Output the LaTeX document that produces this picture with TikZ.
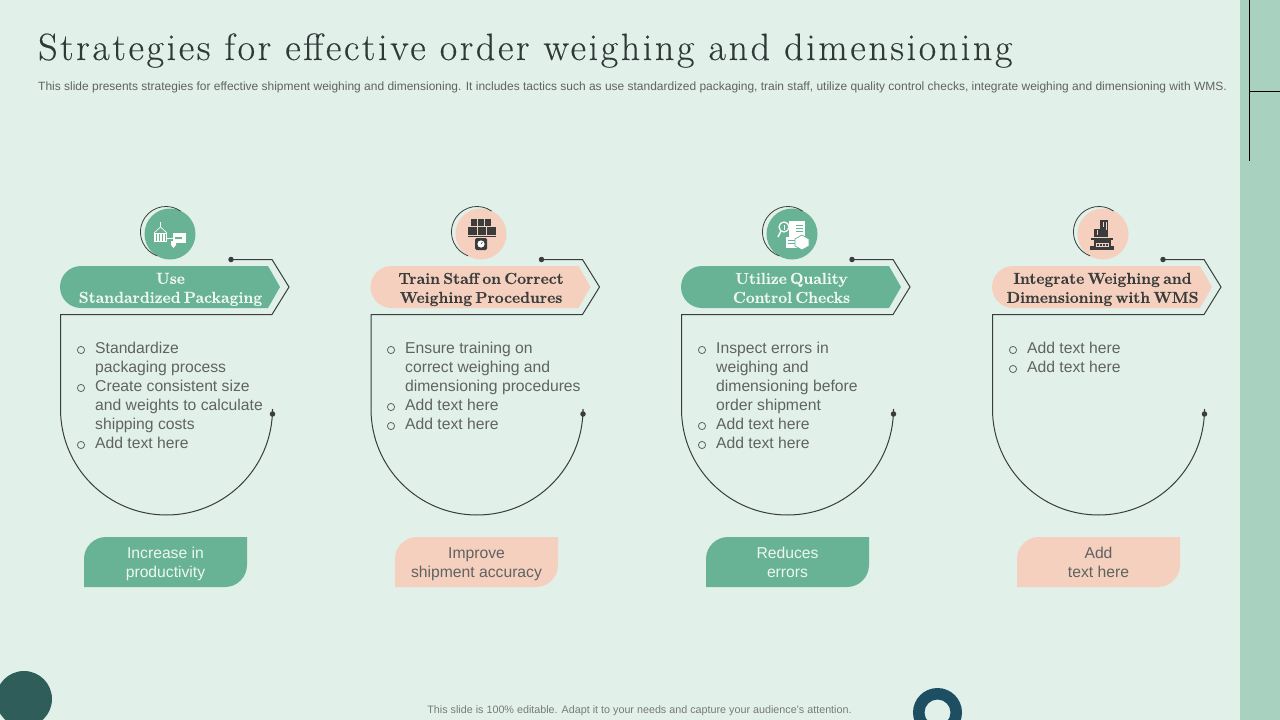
\documentclass[tikz,border=0pt]{standalone}
\usepackage{fontspec}
\setmainfont{Liberation Sans}
\newfontfamily\titlefont[LetterSpace=6.9,FakeBold=0.25]{Latin Modern Roman}
\newfontfamily\headfont[WordSpace=0.55,BoldFeatures={FakeBold=0.5,WordSpace=0.55}]{Latin Modern Roman}
\definecolor{bgc}{HTML}{E2F0EA}
\definecolor{panelc}{HTML}{A8D2BF}
\definecolor{greenc}{HTML}{68B296}
\definecolor{peachc}{HTML}{F5D0BE}
\definecolor{inkc}{HTML}{3A3D3C}
\definecolor{titlec}{HTML}{2F3A38}
\definecolor{bodyc}{HTML}{5F6362}
\definecolor{darkc}{HTML}{2F5E5A}
\definecolor{ringc}{HTML}{1E4E62}
\definecolor{palec}{HTML}{EEF7F3}
\tikzset{
  lineink/.style={draw=inkc,line width=1pt},
  dotink/.style={circle,fill=inkc,inner sep=0pt,minimum size=5.5pt},
  bodytext/.style={anchor=north west,align=left,text=bodyc,font=\fontsize{15.7}{19}\selectfont,inner sep=0pt},
  headtext/.style={align=center,font=\headfont\bfseries\fontsize{15.8}{19}\selectfont,inner sep=0pt,
    execute at begin node=\strut,execute at end node=\strut},
  pilltext/.style={align=center,font=\fontsize{15.7}{19}\selectfont,inner sep=0pt,
    execute at begin node=\strut,execute at end node=\strut},
}
% #1 prefix, #2 x offset, #3 fill, #4 head colour, #5 head, #6 pill text, #7 pill x, #8 icon centre x, #9 pill text colour
\newcommand{\cardframe}[9]{%
  \begin{scope}[shift={(#2,0)}]
    \fill[#3] (81,266) -- (268,266) -- (280,287) -- (268,308) -- (81,308) arc[start angle=90,end angle=270,radius=21] -- cycle;
    \node[headtext,text=#4] (#1head) at (170.5,290.7) {#5};
    \coordinate (#1a) at (231,259.5);
    \coordinate (#1b) at (272.5,414);
    \draw[lineink] (#1a) -- (272,259.5) -- (289,287) -- (272,314.5) -- (60.5,314.5) -- (60.5,409)
      arc[start angle=180,end angle=0,radius=106] -- (#1b);
    \node[dotink] at (#1a) {};
    \node[dotink] at (#1b) {};
  \end{scope}
  \begin{scope}[shift={(#7,0)}]
    \fill[#3] (22,537) -- (163,537) -- (163,565) arc[start angle=0,end angle=90,radius=22] -- (0,587) -- (0,559) arc[start angle=180,end angle=270,radius=22] -- cycle;
    \node[pilltext,text=#9] (#1pill) at (81.5,565.5) {#6};
  \end{scope}
  \begin{scope}[shift={(#8,0)}]
    \fill[#3] (0,234) circle[radius=25.5];
    \draw[lineink,line width=0.8pt] (10.6,211.1) arc[start angle=-55,delta angle=-195,radius=25.5];
  \end{scope}
}
\newcommand{\bull}[2]{\draw[bodyc,line width=0.8pt] (#1,#2) circle[radius=3.6];}
\begin{document}
\begin{tikzpicture}[x=1pt,y=-1pt]
\useasboundingbox (0,0) rectangle (1280,720);
\fill[bgc] (0,0) rectangle (1280,720);
\fill[panelc] (1240,0) rectangle (1280,720);
\draw[black,line width=1pt] (1249.5,0) -- (1249.5,161);
\draw[black,line width=1pt] (1249.5,91) -- (1280,91);
\fill[darkc] (24,699) circle[radius=28];
\fill[ringc,even odd rule] (937.5,712.5) circle[radius=24.5] (937.5,712.5) circle[radius=13];

\node[anchor=base west,inner sep=0pt,text=titlec,font=\titlefont\fontsize{38}{42}\selectfont] (title) at (38,60) {Strategies for effective order weighing and dimensioning};
\node[anchor=west,inner sep=0pt,text=bodyc,font=\fontsize{11.98}{14}\selectfont] (sub) at (38,87) {This slide presents strategies for effective shipment weighing and dimensioning. It includes tactics such as use standardized packaging, train staff, utilize quality control checks, integrate weighing and dimensioning with WMS.};
\node[inner sep=0pt,text=bodyc!85,font=\fontsize{10.76}{12}\selectfont] (foot) at (639.5,711) {This slide is 100\% editable.  Adapt it to your needs and capture your audience's attention.};

\cardframe{c1}{0}{greenc}{palec}{Use\\Standardized Packaging}{Increase in\\productivity}{84}{170}{palec}
\cardframe{c2}{310.5}{peachc}{inkc}{Train Staff on Correct\\Weighing Procedures}{Improve\\shipment accuracy}{395}{481}{bodyc}
\cardframe{c3}{621}{greenc}{palec}{Utilize Quality\\Control Checks}{Reduces\\errors}{706}{792}{palec}
\cardframe{c4}{932}{peachc}{inkc}{Integrate Weighing and\\Dimensioning with WMS}{Add\\text here}{1017}{1103}{bodyc}

% body texts
\node[bodytext] (t1) at (95,341.5) {Standardize\\packaging process\\Create consistent size\\and weights to calculate\\shipping costs\\Add text here};
\foreach \y in {350,388,445} {\bull{81}{\y}}
\node[bodytext] (t2) at (405,341.5) {Ensure training on\\correct weighing and\\dimensioning procedures\\Add text here\\Add text here};
\foreach \y in {350,407,426} {\bull{391}{\y}}
\node[bodytext] (t3) at (716,341.5) {Inspect errors in\\weighing and\\dimensioning before\\order shipment\\Add text here\\Add text here};
\foreach \y in {350,426,445} {\bull{702}{\y}}
\node[bodytext] (t4) at (1027,341.5) {Add text here\\Add text here};
\foreach \y in {350,369} {\bull{1013}{\y}}

% icon 1: container and boxes
\begin{scope}[shift={(170,234)}]
  \fill[white] (-16,-1) rectangle (-3,8);
  \foreach \x in {-14,-11,-8,-5} {\draw[greenc,line width=0.6pt] (\x,0) -- (\x,7);}
  \draw[white,line width=0.6pt] (-16,-1) -- (-9.5,-7) -- (-3,-1) (-9.5,-7) -- (-9.5,-12);
  \draw[white,line width=0.8pt] (-3,4) -- (3,4);
  \fill[white] (3,-1) rectangle (16,9);
  \fill[greenc] (5,3) rectangle (12,4.5);
  \fill[white] (1,7) -- (6,7) -- (6,11) -- (3.5,14) -- (1,11) -- cycle;
\end{scope}
% icon 2: boxes on scale
\begin{scope}[shift={(481,234)}]
  \fill[inkc] (-10,-15) rectangle (10,-8);
  \fill[inkc] (-13,-8) rectangle (15,3);
  \draw[peachc,line width=0.7pt] (-3.5,-15) -- (-3.5,-8) (3.5,-15) -- (3.5,-8) (-13,-8) -- (15,-8) (-4,-8) -- (-4,1) (5,-8) -- (5,1) (-13,1) -- (15,1);
  \fill[inkc,rounded corners=1.5pt] (-6,4) rectangle (6,16);
  \fill[white] (0,10) circle[radius=3.6];
  \draw[inkc,line width=0.5pt] (0,10) -- (1.5,8);
\end{scope}
% icon 3: magnifier, document, box
\begin{scope}[shift={(792,234)}]
  \fill[white] (-3,-13) rectangle (13,7);
  \draw[greenc,line width=0.6pt] (4,-9) -- (11,-9) (4,-6) -- (11,-6) (4,-3) -- (11,-3);
  \draw[white,line width=1.2pt,fill=greenc] (-8,-7) circle[radius=5];
  \draw[white,line width=1.4pt] (-11,-3) -- (-14,3);
  \fill[white] (-8.5,-9.5) rectangle (-7.5,-4.5);
  \fill[white] (-6,3) rectangle (7,14);
  \draw[greenc,line width=0.6pt] (-4,6) -- (3,6) (-4,9) -- (3,9);
  \fill[white,draw=greenc,line width=0.7pt] (10,1) -- (17,5) -- (17,12) -- (10,16) -- (3,12) -- (3,5) -- cycle;
\end{scope}
% icon 4: parcels on weighing platform
\begin{scope}[shift={(1103,234)}]
  \fill[inkc] (-3,-14) rectangle (5,3);
  \fill[inkc] (-9,-5) rectangle (-3,3);
  \draw[peachc,line width=0.6pt] (0,-12) -- (0,-7) (3,-12) -- (3,-4) (-6,-4) -- (-6,1);
  \fill[inkc] (-12,3.5) rectangle (10,6);
  \fill[inkc] (-9,6) rectangle (8,16);
  \fill[inkc] (-13,12) rectangle (11,16);
  \fill[peachc] (-7,9) rectangle (6,12.5);
  \foreach \x in {-6,-3,0,3} {\fill[inkc] (\x,9.5) rectangle (\x+1.5,12);}
\end{scope}
\end{tikzpicture}
\end{document}
